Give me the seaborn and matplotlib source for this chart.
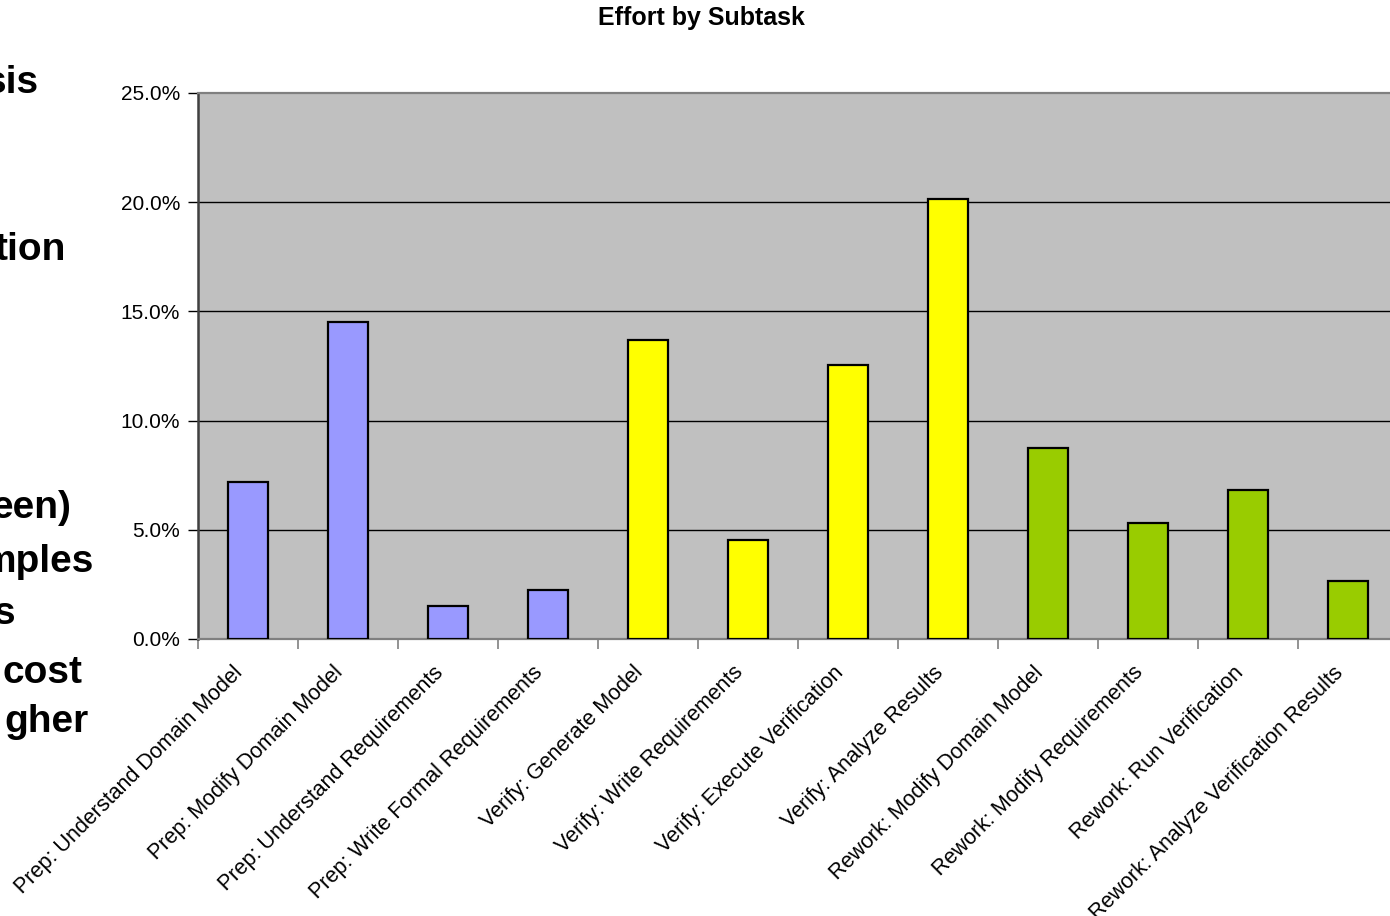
import matplotlib
matplotlib.use("Agg")
import matplotlib.pyplot as plt
import matplotlib.transforms as mtransforms
import pandas as pd
import seaborn as sns
from matplotlib.ticker import FuncFormatter, FixedLocator

# --- data ---
tasks = [
    "Prep: Understand Domain Model",
    "Prep: Modify Domain Model",
    "Prep: Understand Requirements",
    "Prep: Write Formal Requirements",
    "Verify: Generate Model",
    "Verify: Write Requirements",
    "Verify: Execute Verification",
    "Verify: Analyze Results",
    "Rework: Modify Domain Model",
    "Rework: Modify Requirements",
    "Rework: Run Verification",
    "Rework: Analyze Verification Results",
]
phases = ["Prep"] * 4 + ["Verify"] * 4 + ["Rework"] * 4
effort_pct = [7.2, 14.5, 1.5, 2.25, 13.7, 4.55, 12.55, 20.15, 8.75, 5.3, 6.8, 2.65]
y_ticks = [0, 5, 10, 15, 20, 25]

# slide text behind the chart, clipped by the left edge of the image
side_fragments = ["sis", "tion", "een)", "mples", "s", "cost", "gher"]

phase_colors = {"Prep": "#9999FF", "Verify": "#FFFF00", "Rework": "#99CC00"}

df = pd.DataFrame({"task": tasks, "phase": phases, "effort": effort_pct})

sns.set_style("white")
plt.rcParams["font.family"] = ["Liberation Sans", "DejaVu Sans"]
plt.rcParams["text.color"] = "black"
plt.rcParams["xtick.color"] = "black"
plt.rcParams["ytick.color"] = "black"

W, H = 1390, 916
fig = plt.figure(figsize=(W / 100, H / 100), dpi=100, facecolor="white")
# plot area runs slightly past the right edge, as in the reference
ax = fig.add_axes([198 / W, (H - 639) / H, 1200 / W, 546 / H])
ax.set_facecolor("#C0C0C0")

sns.barplot(data=df, x="task", y="effort", hue="phase", palette=phase_colors,
            saturation=1, dodge=False, width=0.4, edgecolor="black",
            linewidth=1.6, legend=False, ax=ax, zorder=3)

ax.set_xlim(-0.5, len(tasks) - 0.5)
ax.set_ylim(0, 25)
ax.set_xlabel("")
ax.set_ylabel("")

# y axis
ax.set_yticks(y_ticks)
ax.yaxis.set_major_formatter(FuncFormatter(lambda v, _: f"{v:.1f}%"))
ax.tick_params(axis="y", direction="out", length=7, width=1, color="black",
               labelcolor="black", labelsize=15, pad=6, left=True)
for v in y_ticks[1:-1]:
    ax.axhline(v, color="black", linewidth=1, zorder=1)

# x axis: labels at category centres, tick marks at category boundaries
ax.set_xticks(range(len(tasks)))
ax.set_xticklabels(tasks, rotation=45, ha="right", va="center",
                   rotation_mode="anchor", fontsize=15.5, color="black")
ax.tick_params(axis="x", length=0, pad=22)
shift = mtransforms.ScaledTranslation(-8 / 100, 0, fig.dpi_scale_trans)
for lbl in ax.get_xticklabels():
    lbl.set_transform(lbl.get_transform() + shift)
ax.xaxis.set_minor_locator(FixedLocator([i - 0.5 for i in range(len(tasks) + 1)]))
ax.tick_params(axis="x", which="minor", direction="out", length=7, width=1.2,
               color="#808080", bottom=True)

for side in ["top", "right", "bottom"]:
    ax.spines[side].set_color("#808080")
    ax.spines[side].set_linewidth(1.6)
ax.spines["left"].set_color("#404040")
ax.spines["left"].set_linewidth(1.8)

fig.text(701 / W, 1 - 18 / H, "Effort by Subtask", ha="center", va="center",
         fontsize=18, fontweight="bold", color="black")

# right edge (x) and vertical centre (y) of each clipped fragment, in pixels
frag_pos = [(39, 83), (66, 250), (71, 508), (94, 562), (15, 614), (83, 673), (89, 722)]
for text, (x, y) in zip(side_fragments, frag_pos):
    fig.text(x / W, 1 - y / H, text, ha="right", va="center",
             fontsize=28, fontweight="bold", color="black")

fig.savefig("out.png", dpi=100, facecolor="white")
